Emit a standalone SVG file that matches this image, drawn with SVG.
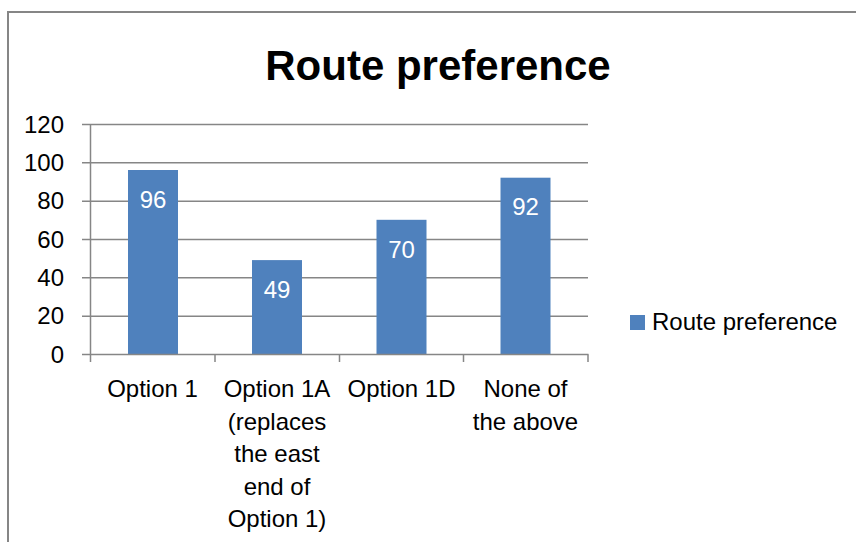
<svg xmlns="http://www.w3.org/2000/svg" width="856" height="542" viewBox="0 0 856 542">
<style>
.t{font-family:"Liberation Sans",Arial,sans-serif;font-size:24px;fill:#000}
.title{font-family:"Liberation Sans",Arial,sans-serif;font-size:42px;font-weight:bold;fill:#000}
.dl{font-family:"Liberation Sans",Arial,sans-serif;font-size:24px;fill:#fff}
.g{stroke:#868686;stroke-width:1.5;fill:none}
.bar{fill:#4F81BD}
</style>
<rect x="0" y="0" width="856" height="542" fill="#fff"/>
<path d="M8 542 V12 H856" fill="none" stroke="#868686" stroke-width="2"/>
<text class="title" x="438" y="80" text-anchor="middle">Route preference</text>
<g id="grid">
<path class="g" d="M90 124.5 H588 M90 162.8 H588 M90 201.2 H588 M90 239.5 H588 M90 277.8 H588 M90 316.2 H588"/>
<path class="g" d="M82 124.5 H90 M82 162.8 H90 M82 201.2 H90 M82 239.5 H90 M82 277.8 H90 M82 316.2 H90 M82 354.5 H90"/>
</g>
<g id="yaxis-labels" class="t" text-anchor="end">
<text x="64" y="132.5">120</text>
<text x="64" y="170.8">100</text>
<text x="64" y="209.2">80</text>
<text x="64" y="247.5">60</text>
<text x="64" y="285.8">40</text>
<text x="64" y="324.2">20</text>
<text x="64" y="362.5">0</text>
</g>
<g id="bar-option1">
<rect class="bar" x="128" y="170" width="50" height="184.5"/>
<text class="dl" x="153" y="208" text-anchor="middle">96</text>
</g>
<g id="bar-option1a">
<rect class="bar" x="252" y="260.1" width="50" height="94.4"/>
<text class="dl" x="277" y="298" text-anchor="middle">49</text>
</g>
<g id="bar-option1d">
<rect class="bar" x="376.5" y="219.8" width="50" height="134.7"/>
<text class="dl" x="401.5" y="257.5" text-anchor="middle">70</text>
</g>
<g id="bar-none">
<rect class="bar" x="500.5" y="177.7" width="50" height="176.8"/>
<text class="dl" x="525.5" y="215.3" text-anchor="middle">92</text>
</g>
<g id="axes">
<path class="g" d="M90.5 124 V354.5 M90 354.5 H588.5"/>
<path class="g" d="M90.5 354.5 V362 M215 354.5 V362 M339.5 354.5 V362 M463.5 354.5 V362 M588 354.5 V362"/>
</g>
<g id="xaxis-labels" class="t" text-anchor="middle">
<text x="152.5" y="397">Option 1</text>
<text x="277" y="397">Option 1A</text>
<text x="277" y="429.5">(replaces</text>
<text x="277" y="462">the east</text>
<text x="277" y="494.5">end of</text>
<text x="277" y="527">Option 1)</text>
<text x="401.5" y="397">Option 1D</text>
<text x="525.5" y="397">None of</text>
<text x="525.5" y="429.5">the above</text>
</g>
<g id="legend">
<rect class="bar" x="630" y="315" width="15" height="15"/>
<text class="t" x="652" y="330">Route preference</text>
</g>
</svg>
